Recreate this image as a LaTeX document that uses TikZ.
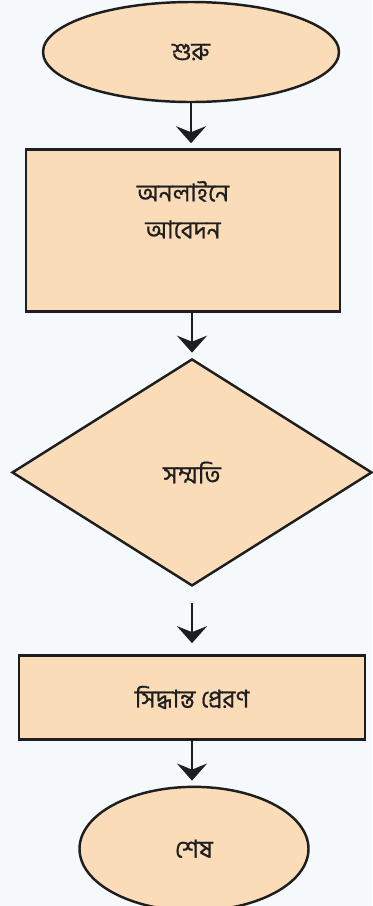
\documentclass[tikz,border=0pt]{standalone}
\usepackage{fontspec}
\newfontfamily\bnfont[Script=Bengali,FakeBold=0.6]{Hind Siliguri}
\usetikzlibrary{arrows.meta,positioning,shapes.geometric}
\definecolor{peach}{HTML}{FADCB9}
\definecolor{paper}{HTML}{F6F9FB}
\definecolor{ink}{HTML}{1E1E1E}

\begin{document}
\begin{tikzpicture}[node distance=9mm, every node/.style={font=\bnfont\fontsize{14}{21}\selectfont,align=center,text=ink}, term/.style={ellipse,draw=ink,line width=1.4pt,fill=peach,inner sep=0pt}, stepbox/.style={rectangle,draw=ink,line width=1.4pt,fill=peach}, ask/.style={diamond,draw=ink,line width=1.4pt,fill=peach,inner sep=0pt}, arr/.style={-{Stealth[length=3.4mm,width=6mm,inset=1.2mm]},line width=1.5pt,ink,shorten >=1mm}]
\path[use as bounding box,fill=paper] (0,0) rectangle (7.44,-18.12);
\node[term,minimum width=5.92cm,minimum height=2cm] (start) at (3.82,-1.04) {শুরু};
\node[stepbox,minimum width=6.28cm,minimum height=3.24cm,below=9mm of start,xshift=-1.6mm] (apply) {\begin{tabular}{@{}c@{}}অনলাইনে\\আবেদন\\[7.2mm]\end{tabular}};
\node[ask,minimum width=7.2cm,minimum height=4.54cm,below=of apply,xshift=1.8mm] (consent) {সম্মতি};
\node[stepbox,minimum width=6.92cm,minimum height=1.68cm,below=13.4mm of consent] (send) {সিদ্ধান্ত প্রেরণ};
\node[term,minimum width=4.58cm,minimum height=2.48cm,below=of send,xshift=0.4mm] (finish) {শেষ};
\draw[arr] (start.south) -- (start.south |- apply.north);\draw[arr] (consent.north |- apply.south) -- (consent.north);\draw[arr,shorten <=3.2mm,shorten >=2.2mm] (consent.south) -- (send.north);\draw[arr] (send.south) -- (send.south |- finish.north);
\end{tikzpicture}
\end{document}
